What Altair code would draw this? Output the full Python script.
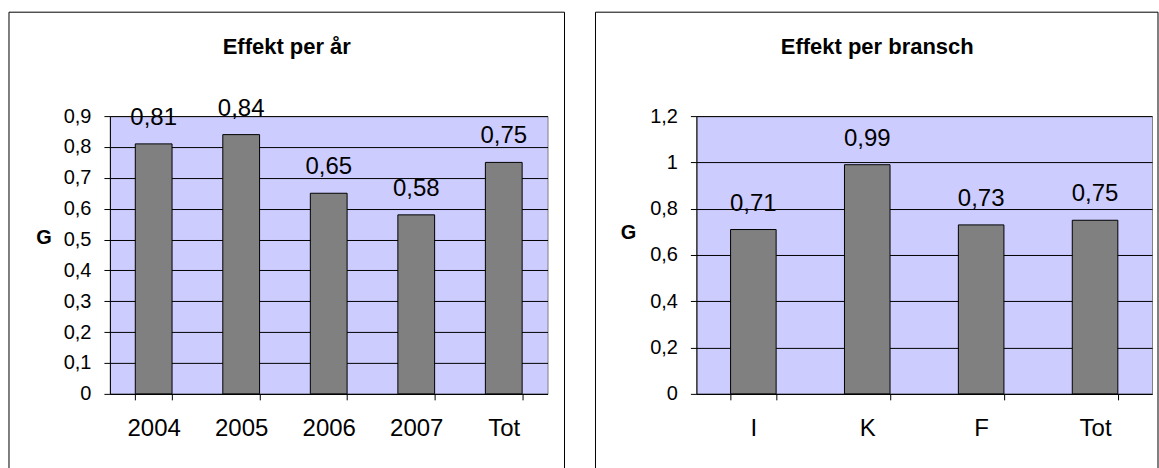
import altair as alt
import pandas as pd

# ---- data ----
years = ["2004", "2005", "2006", "2007", "Tot"]
year_vals = [0.81, 0.84, 0.65, 0.58, 0.75]
branches = ["I", "K", "F", "Tot"]
branch_vals = [0.71, 0.99, 0.73, 0.75]
left_ticks = [0, 0.1, 0.2, 0.3, 0.4, 0.5, 0.6, 0.7, 0.8, 0.9]
right_ticks = [0, 0.2, 0.4, 0.6, 0.8, 1.0, 1.2]
titles = ["Effekt per år", "Effekt per bransch"]
y_title = "G"

FONT = "Liberation Sans"
ONE = pd.DataFrame({"k": [0]})


def panel(cats, vals, ticks, ymax, title, w, h, pad_inner, box_left, box_right, title_x, g_x, g_y):
    df = pd.DataFrame({"cat": cats, "val": vals})
    base = alt.Chart(df).transform_calculate(
        lab="replace(format(datum.val, '.2f'), '.', ',')"
    )
    x = alt.X(
        "cat:N",
        sort=cats,
        scale=alt.Scale(paddingInner=pad_inner, paddingOuter=pad_inner / 2),
        axis=alt.Axis(
            title=None,
            labelAngle=0,
            labelFont=FONT,
            labelFontSize=24,
            labelColor="black",
            labelPadding=17,
            tickBand="extent",
            tickColor="black",
            tickSize=6,
            domainColor="black",
            grid=False,
        ),
    )
    y = alt.Y(
        "val:Q",
        scale=alt.Scale(domain=[0, ymax], nice=False),
        axis=alt.Axis(
            title=None,
            values=ticks,
            labelExpr="replace(format(datum.value, '.1~f'), '.', ',')",
            labelFont=FONT,
            labelFontSize=20,
            labelColor="black",
            labelPadding=13,
            tickColor="black",
            tickSize=6,
            domainColor="black",
            grid=True,
            gridColor="black",
            gridWidth=1,
            gridOpacity=1,
        ),
    )
    bars = base.mark_bar(fill="#808080", stroke="black", strokeWidth=1).encode(x=x, y=y)
    labels = base.mark_text(
        font=FONT, fontSize=24, color="black", baseline="alphabetic", dy=-19
    ).encode(x=x, y=y, text="lab:N")
    ttl = alt.Chart(ONE).mark_text(
        font=FONT, fontSize=22, fontWeight="bold", color="black", baseline="middle", align="center"
    ).encode(x=alt.value(title_x), y=alt.value(-69), text=alt.value(title))
    gt = alt.Chart(ONE).mark_text(
        font=FONT, fontSize=20, fontWeight="bold", color="black", baseline="middle", align="center"
    ).encode(x=alt.value(g_x), y=alt.value(g_y), text=alt.value(y_title))
    top = -104
    bottom = 353
    r1 = alt.Chart(ONE).mark_rule(color="black", strokeWidth=1).encode(
        x=alt.value(box_left), y=alt.value(top), y2=alt.value(bottom))
    r2 = alt.Chart(ONE).mark_rule(color="black", strokeWidth=1).encode(
        x=alt.value(box_right), y=alt.value(top), y2=alt.value(bottom))
    r3 = alt.Chart(ONE).mark_rule(color="black", strokeWidth=1).encode(
        x=alt.value(box_left), x2=alt.value(box_right), y=alt.value(top))
    return alt.layer(bars, labels, ttl, gt, r1, r2, r3).properties(width=w, height=h)


left = panel(years, year_vals, left_ticks, 0.9, titles[0], 438, 278, 0.58,
             -101, 455, 177, -66, 122)
right = panel(branches, branch_vals, right_ticks, 1.2, titles[1], 456, 278, 0.6,
              -101, 462, 181, -68, 117)

chart = alt.hconcat(left, right, spacing=149, bounds="flush").properties(
    padding={"left": 8, "top": 11, "right": 0, "bottom": 0},
    background="white",
).configure_view(fill="#CCCCFF", stroke="#808080", strokeWidth=1)

chart.save("out.html", embed_options={"renderer": "svg", "actions": False})
